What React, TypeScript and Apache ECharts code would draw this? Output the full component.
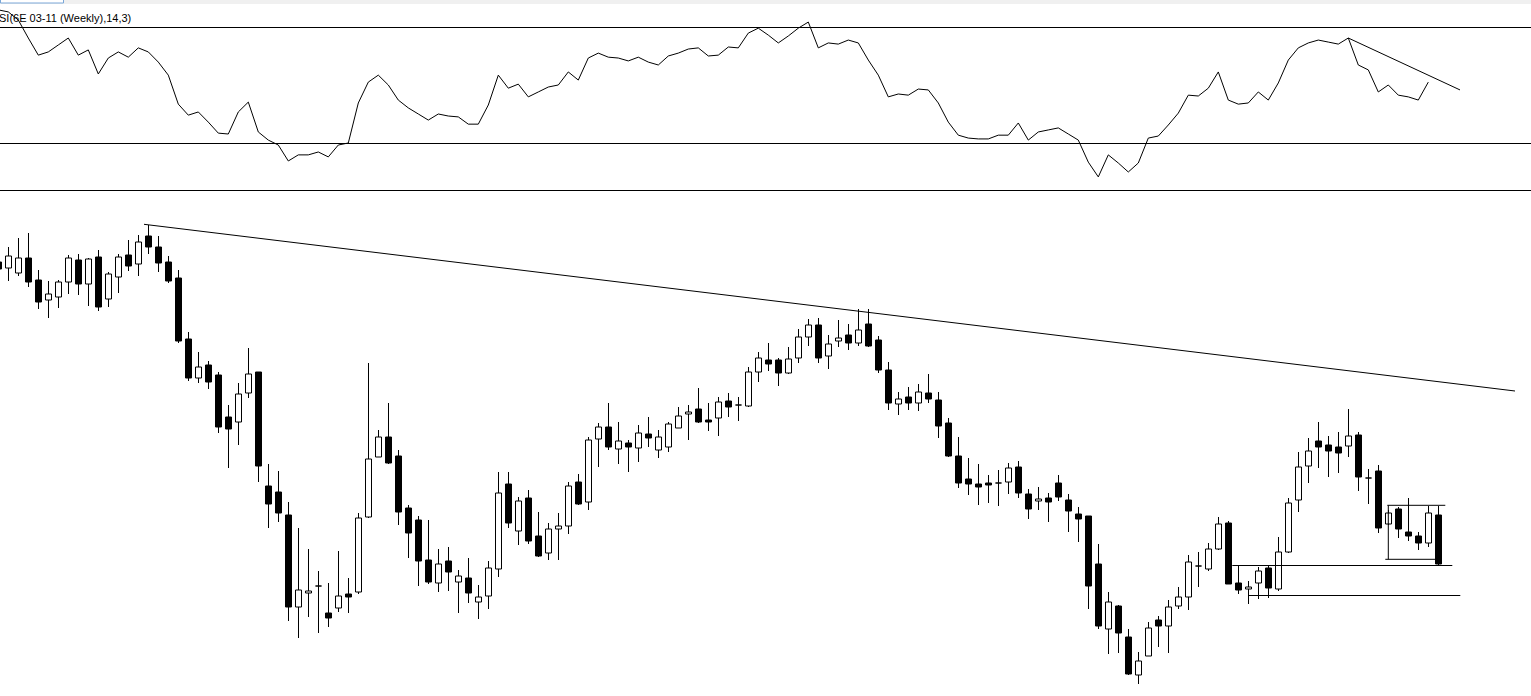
import React, { useEffect, useRef } from "react";
import * as echarts from "echarts";

// Weekly candles (first entry is the partly hidden bar at the left edge)
const openP = [
  1.568, 1.562, 1.557, 1.572, 1.550, 1.530, 1.533, 1.548, 1.570, 1.546,
  1.573, 1.531, 1.553, 1.575, 1.566, 1.594, 1.583, 1.568, 1.552, 1.491,
  1.452, 1.465, 1.455, 1.413, 1.408, 1.437, 1.458, 1.344, 1.338, 1.315,
  1.223, 1.237, 1.244, 1.217, 1.222, 1.236, 1.238, 1.313, 1.373, 1.393,
  1.374, 1.322, 1.310, 1.270, 1.247, 1.269, 1.248, 1.252, 1.228, 1.234,
  1.261, 1.346, 1.299, 1.332, 1.294, 1.277, 1.301, 1.304, 1.348, 1.328,
  1.391, 1.403, 1.381, 1.387, 1.382, 1.396, 1.380, 1.383, 1.402, 1.416,
  1.421, 1.410, 1.412, 1.429, 1.425, 1.424, 1.458, 1.470, 1.470, 1.457,
  1.472, 1.493, 1.505, 1.474, 1.489, 1.495, 1.487, 1.506, 1.490, 1.460,
  1.426, 1.433, 1.427, 1.437, 1.430, 1.407, 1.374, 1.351, 1.346, 1.347,
  1.347, 1.348, 1.363, 1.336, 1.329, 1.332, 1.347, 1.330, 1.316, 1.314,
  1.266, 1.201, 1.224, 1.193, 1.155, 1.174, 1.210, 1.204, 1.224, 1.233,
  1.264, 1.261, 1.281, 1.307, 1.247, 1.241, 1.247, 1.262, 1.241, 1.278,
  1.330, 1.364, 1.389, 1.385, 1.383, 1.384, 1.395, 1.352, 1.359, 1.306,
  1.321, 1.298, 1.294, 1.287, 1.315,
];
const closeP = [
  1.561, 1.574, 1.572, 1.548, 1.528, 1.536, 1.548, 1.572, 1.546, 1.571,
  1.523, 1.556, 1.573, 1.564, 1.588, 1.583, 1.567, 1.549, 1.489, 1.452,
  1.463, 1.448, 1.403, 1.401, 1.436, 1.456, 1.364, 1.326, 1.317, 1.223,
  1.240, 1.239, 1.244, 1.212, 1.234, 1.233, 1.312, 1.371, 1.393, 1.367,
  1.318, 1.297, 1.269, 1.248, 1.266, 1.258, 1.254, 1.237, 1.233, 1.262,
  1.337, 1.307, 1.329, 1.289, 1.274, 1.301, 1.304, 1.344, 1.326, 1.390,
  1.403, 1.383, 1.389, 1.383, 1.397, 1.392, 1.393, 1.406, 1.414, 1.418,
  1.408, 1.408, 1.428, 1.423, 1.425, 1.458, 1.472, 1.466, 1.457, 1.471,
  1.493, 1.505, 1.472, 1.486, 1.492, 1.487, 1.500, 1.484, 1.460, 1.427,
  1.431, 1.427, 1.438, 1.431, 1.404, 1.374, 1.347, 1.346, 1.343, 1.345,
  1.347, 1.362, 1.337, 1.321, 1.331, 1.328, 1.333, 1.319, 1.311, 1.244,
  1.204, 1.228, 1.197, 1.156, 1.169, 1.202, 1.204, 1.223, 1.233, 1.268,
  1.264, 1.281, 1.306, 1.246, 1.240, 1.243, 1.259, 1.242, 1.278, 1.327,
  1.363, 1.379, 1.383, 1.379, 1.377, 1.394, 1.353, 1.352, 1.302, 1.317,
  1.301, 1.294, 1.287, 1.317, 1.266,
];
const lowP = [
  1.554, 1.549, 1.554, 1.543, 1.521, 1.512, 1.522, 1.536, 1.535, 1.524,
  1.519, 1.523, 1.537, 1.559, 1.554, 1.576, 1.558, 1.547, 1.487, 1.449,
  1.447, 1.441, 1.397, 1.362, 1.385, 1.432, 1.348, 1.302, 1.308, 1.209,
  1.192, 1.213, 1.197, 1.203, 1.218, 1.217, 1.236, 1.312, 1.373, 1.366,
  1.305, 1.272, 1.244, 1.246, 1.238, 1.239, 1.217, 1.227, 1.211, 1.221,
  1.253, 1.302, 1.285, 1.286, 1.273, 1.270, 1.270, 1.296, 1.325, 1.320,
  1.363, 1.380, 1.366, 1.358, 1.368, 1.383, 1.372, 1.378, 1.402, 1.390,
  1.407, 1.399, 1.394, 1.413, 1.409, 1.423, 1.448, 1.459, 1.444, 1.456,
  1.467, 1.484, 1.467, 1.461, 1.483, 1.480, 1.484, 1.483, 1.457, 1.420,
  1.415, 1.420, 1.419, 1.427, 1.392, 1.373, 1.342, 1.335, 1.325, 1.327,
  1.324, 1.336, 1.332, 1.311, 1.320, 1.308, 1.329, 1.298, 1.288, 1.221,
  1.201, 1.176, 1.177, 1.155, 1.146, 1.174, 1.183, 1.177, 1.221, 1.220,
  1.243, 1.259, 1.280, 1.246, 1.236, 1.226, 1.231, 1.232, 1.239, 1.277,
  1.318, 1.347, 1.362, 1.353, 1.357, 1.373, 1.339, 1.326, 1.297, 1.305,
  1.292, 1.289, 1.280, 1.283, 1.264,
];
const highP = [
  1.574, 1.583, 1.592, 1.597, 1.560, 1.549, 1.550, 1.575, 1.576, 1.572,
  1.580, 1.558, 1.576, 1.590, 1.595, 1.605, 1.594, 1.574, 1.560, 1.498,
  1.478, 1.469, 1.458, 1.425, 1.447, 1.482, 1.458, 1.366, 1.359, 1.328,
  1.302, 1.281, 1.259, 1.247, 1.279, 1.252, 1.317, 1.467, 1.400, 1.427,
  1.380, 1.325, 1.314, 1.310, 1.281, 1.283, 1.260, 1.272, 1.245, 1.269,
  1.358, 1.358, 1.333, 1.340, 1.318, 1.307, 1.317, 1.348, 1.356, 1.393,
  1.407, 1.427, 1.408, 1.390, 1.405, 1.413, 1.400, 1.408, 1.423, 1.425,
  1.442, 1.427, 1.433, 1.437, 1.433, 1.463, 1.478, 1.487, 1.472, 1.483,
  1.501, 1.511, 1.512, 1.495, 1.510, 1.506, 1.521, 1.521, 1.494, 1.468,
  1.438, 1.443, 1.446, 1.456, 1.438, 1.412, 1.393, 1.372, 1.366, 1.355,
  1.360, 1.367, 1.369, 1.341, 1.343, 1.337, 1.355, 1.336, 1.323, 1.314,
  1.286, 1.238, 1.225, 1.201, 1.178, 1.208, 1.214, 1.230, 1.243, 1.275,
  1.278, 1.287, 1.313, 1.309, 1.264, 1.249, 1.263, 1.265, 1.293, 1.332,
  1.378, 1.392, 1.408, 1.394, 1.398, 1.421, 1.398, 1.361, 1.365, 1.320,
  1.323, 1.332, 1.298, 1.324, 1.324,
];

// Oscillator (14,3) values, same weeks
const oscValues = [
  75.9, 75.2, 72.4, 66.2, 60.3, 61.4, 63.8, 66.2, 60.3, 62.1,
  53.8, 59.3, 61.4, 59.6, 62.8, 61.4, 57.9, 53.4, 43.4, 39.6,
  40.7, 37.2, 33.4, 33.1, 40.7, 44.1, 33.8, 31.0, 29.3, 23.8,
  25.9, 25.9, 26.9, 25.2, 29.3, 30.0, 43.8, 51.0, 53.4, 50.0,
  44.8, 42.1, 40.0, 37.9, 40.0, 39.3, 39.0, 36.5, 36.5, 43.1,
  53.4, 48.9, 50.3, 45.9, 47.6, 49.3, 50.0, 54.5, 51.7, 59.3,
  61.0, 59.6, 59.3, 58.3, 59.6, 57.9, 56.9, 60.0, 61.0, 62.4,
  62.8, 60.0, 60.3, 63.1, 62.8, 67.9, 69.6, 67.2, 64.5, 66.9,
  69.6, 71.7, 62.8, 64.5, 64.1, 65.5, 64.5, 58.6, 53.4, 45.9,
  46.9, 46.5, 48.6, 48.3, 43.8, 37.2, 32.7, 31.7, 31.4, 31.4,
  32.7, 32.7, 36.9, 31.0, 33.8, 34.5, 35.2, 33.1, 31.0, 23.4,
  18.3, 25.9, 23.1, 20.0, 23.1, 31.7, 32.4, 36.2, 40.3, 46.5,
  46.2, 48.9, 54.5, 44.8, 43.4, 43.8, 47.6, 44.8, 50.7, 58.6,
  62.8, 64.5, 65.5, 64.8, 64.1, 66.2, 56.9, 55.2, 47.6, 50.0,
  46.5, 45.9, 44.8, 51.0,
];
const oscLevels = [70, 30];

// Bar positions: first bar is -1, the rest count from 0
const FIRST_BAR = -1;
const X_MIN = -0.83;
const X_MAX = 152.27;

// Drawn annotations (bar position, price)
const trendX = [13.57, 150.67];
const trendY = [1.6057, 1.439];
const support1X = [122.4, 144.4];
const support1Y = [1.2645, 1.2645];
const support2X = [124.0, 145.2];
const support2Y = [1.2345, 1.2345];
const boxTopX = [137.9, 143.7];
const boxTopY = [1.3247, 1.3247];
const boxLeftX = [138, 138];
const boxLeftY = [1.3247, 1.2707];
const boxBottomX = [137.7, 142.9];
const boxBottomY = [1.2707, 1.2707];
const oscTrendX = [134, 145.17];
const oscTrendY = [66.2, 48.3];

const categories: string[] = [];
{
  const start = Date.UTC(2008, 2, 31);
  for (let i = 0; i < openP.length; i++) {
    const d = new Date(start + i * 7 * 86400000);
    categories.push(d.toISOString().slice(0, 10));
  }
}

const pairs = (xs: number[], ys: number[]) => xs.map((x, i) => [x, ys[i]]);

const lineSeries = (name: string, xs: number[], ys: number[], xIdx: number, yIdx: number) => ({
  name,
  type: "line",
  xAxisIndex: xIdx,
  yAxisIndex: yIdx,
  data: pairs(xs, ys),
  symbol: "none",
  silent: true,
  lineStyle: { color: "#000", width: 1 },
  z: 5,
});

export default function App() {
  const ref = useRef<HTMLDivElement>(null);
  useEffect(() => {
    if (!ref.current) return;
    const chart = echarts.init(ref.current, null, { renderer: "svg" });
    const candleData = openP.map((o, i) => ({
      name: categories[i],
      value: [FIRST_BAR + i, o, closeP[i], lowP[i], highP[i]],
    }));
    const oscData = oscValues.map((v, i) => [FIRST_BAR + i, v]);
    const option: any = {
      animation: false,
      backgroundColor: "#fff",
      grid: [
        { left: 0, top: 0, width: 1531, height: 190 },
        { left: 0, top: 200, width: 1531, height: 496 },
      ],
      xAxis: [
        { type: "value", gridIndex: 1, min: X_MIN, max: X_MAX, show: false, splitLine: { show: false } },
        { type: "value", gridIndex: 0, min: X_MIN, max: X_MAX, show: false, splitLine: { show: false } },
      ],
      yAxis: [
        { type: "value", gridIndex: 1, min: 1.134, max: 1.63, show: false, splitLine: { show: false } },
        { type: "value", gridIndex: 0, min: 13.79, max: 79.31, show: false, splitLine: { show: false } },
      ],
      series: [
        {
          name: "6E",
          type: "candlestick",
          xAxisIndex: 0,
          yAxisIndex: 0,
          data: candleData,
          encode: { x: 0, y: [1, 2, 3, 4] },
          barWidth: 6,
          clip: true,
          itemStyle: {
            color: "#fff",
            color0: "#000",
            borderColor: "#000",
            borderColor0: "#000",
            borderColorDoji: "#000",
            borderWidth: 1,
          },
        },
        lineSeries("trend", trendX, trendY, 0, 0),
        lineSeries("support1", support1X, support1Y, 0, 0),
        lineSeries("support2", support2X, support2Y, 0, 0),
        lineSeries("boxTop", boxTopX, boxTopY, 0, 0),
        lineSeries("boxLeft", boxLeftX, boxLeftY, 0, 0),
        lineSeries("boxBottom", boxBottomX, boxBottomY, 0, 0),
        {
          name: "osc",
          type: "line",
          xAxisIndex: 1,
          yAxisIndex: 1,
          data: oscData,
          symbol: "none",
          silent: true,
          clip: true,
          lineStyle: { color: "#000", width: 1 },
          markLine: {
            silent: true,
            symbol: "none",
            label: { show: false },
            lineStyle: { color: "#000", width: 1, type: "solid" },
            data: oscLevels.map((v) => ({ yAxis: v })),
          },
        },
        lineSeries("oscTrend", oscTrendX, oscTrendY, 1, 1),
      ],
      graphic: [
        { type: "rect", shape: { x: 0, y: 0, width: 1531, height: 4 }, style: { fill: "#f0f0f0" }, silent: true },
        { type: "rect", shape: { x: 0.5, y: -1, width: 63, height: 4 }, style: { fill: "#fff", stroke: "#7aa7d8", lineWidth: 1 }, silent: true },
        {
          type: "text",
          x: -1,
          y: 18,
          style: {
            text: "SI(6E 03-11 (Weekly),14,3)",
            fill: "#000",
            font: "11px 'Liberation Sans', Arial, sans-serif",
            verticalAlign: "middle",
          },
          silent: true,
        },
        { type: "line", shape: { x1: 0, y1: 190.5, x2: 1531, y2: 190.5 }, style: { stroke: "#000", lineWidth: 1 }, silent: true },
      ],
    };
    chart.setOption(option);
    return () => chart.dispose();
  }, []);
  return (
    <div
      ref={ref}
      style={{ position: "fixed", left: 0, top: 0, width: 1531, height: 696, background: "#fff" }}
    />
  );
}
